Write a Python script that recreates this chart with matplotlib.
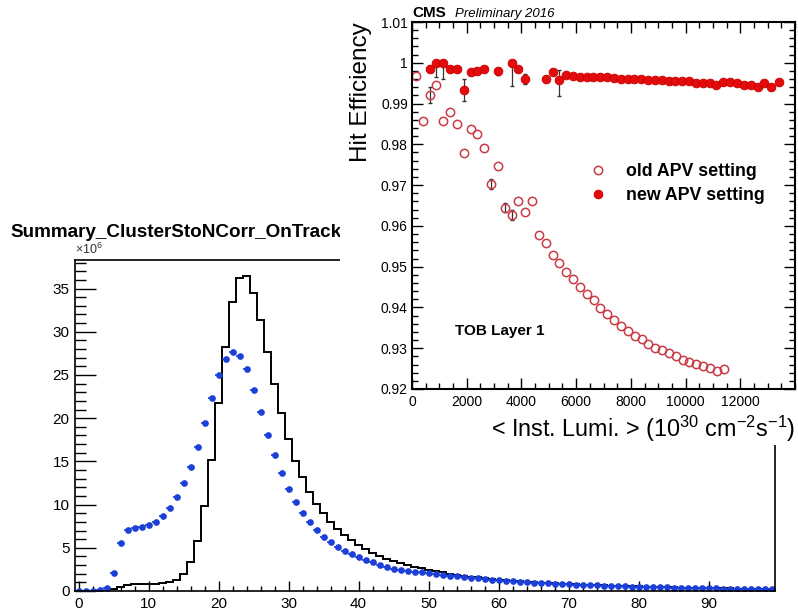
import matplotlib
matplotlib.use('Agg')
import matplotlib.pyplot as plt
import numpy as np
from matplotlib.patches import Rectangle
from matplotlib.lines import Line2D
from matplotlib.ticker import MultipleLocator

plt.rcParams['font.family'] = ['Liberation Sans', 'DejaVu Sans']
plt.rcParams['mathtext.fontset'] = 'custom'
plt.rcParams['mathtext.rm'] = 'Liberation Sans'
plt.rcParams['mathtext.it'] = 'Liberation Sans:italic'
plt.rcParams['mathtext.bf'] = 'Liberation Sans:bold'

# ---- left plot: cluster S/N on track (units of 1e6), bins centred on integers 0..99
ston_bins = np.arange(100)
ston_hist = [0, 0, 0, 0, 0.05, 0.2, 0.5, 0.7, 0.8, 0.8,
             0.8, 0.85, 0.95, 1.05, 1.3, 2.0, 3.3, 5.8, 9.8, 15.2,
             21.7, 28.2, 33.4, 36.2, 36.4, 34.5, 31.3, 27.6, 24.0, 20.6,
             17.6, 15.1, 13.2, 11.5, 10.1, 9.0, 8.0, 7.2, 6.5, 5.9,
             5.35, 4.85, 4.45, 4.1, 3.75, 3.45, 3.2, 3.0, 2.8, 2.62,
             2.45, 2.3, 2.15, 2.02, 1.9, 1.78, 1.67, 1.57, 1.47, 1.38,
             1.3, 1.23, 1.16, 1.1, 1.05, 1.0, 0.96, 0.92, 0.88, 0.84,
             0.8, 0.77, 0.74, 0.71, 0.68, 0.65, 0.62, 0.6, 0.57, 0.55,
             0.53, 0.5, 0.48, 0.46, 0.44, 0.42, 0.4, 0.39, 0.37, 0.35,
             0.34, 0.32, 0.3, 0.29, 0.27, 0.26, 0.24, 0.23, 0.22, 0.21]
ston_points = [0, 0, 0.05, 0.1, 0.35, 2.1, 5.6, 7.1, 7.3, 7.4,
               7.6, 8.0, 8.7, 9.6, 10.9, 12.5, 14.3, 16.7, 19.4, 22.3,
               25.0, 26.9, 27.6, 27.2, 25.7, 23.3, 20.7, 18.1, 15.7, 13.6,
               11.8, 10.3, 9.05, 7.95, 7.05, 6.3, 5.65, 5.1, 4.65, 4.3,
               3.95, 3.6, 3.3, 3.05, 2.8, 2.6, 2.45, 2.35, 2.25, 2.15,
               2.05, 1.95, 1.85, 1.75, 1.68, 1.6, 1.52, 1.45, 1.38, 1.31,
               1.25, 1.19, 1.13, 1.08, 1.03, 0.98, 0.93, 0.89, 0.85, 0.81,
               0.77, 0.74, 0.71, 0.68, 0.65, 0.62, 0.6, 0.57, 0.55, 0.52,
               0.5, 0.48, 0.46, 0.44, 0.42, 0.4, 0.38, 0.36, 0.35, 0.33,
               0.32, 0.3, 0.28, 0.27, 0.25, 0.24, 0.22, 0.21, 0.2, 0.19]

# ---- right plot: hit efficiency vs inst. lumi
old_lumi = [140, 390, 640, 890, 1140, 1390, 1640, 1890, 2140, 2390,
            2640, 2890, 3140, 3390, 3640, 3890, 4140, 4390, 4640, 4890,
            5140, 5390, 5640, 5890, 6140, 6390, 6640, 6890, 7140, 7390,
            7640, 7890, 8140, 8390, 8640, 8890, 9140, 9390, 9640, 9890,
            10140, 10390, 10640, 10890, 11140, 11390]
old_eff = [0.9968, 0.9858, 0.9921, 0.9946, 0.9858, 0.9879, 0.9851, 0.9778, 0.9838, 0.9825,
           0.9792, 0.9702, 0.9746, 0.9645, 0.9627, 0.9660, 0.9635, 0.9661, 0.9578, 0.9557,
           0.9529, 0.9509, 0.9488, 0.9469, 0.9451, 0.9433, 0.9418, 0.9398, 0.9384, 0.9369,
           0.9354, 0.9342, 0.9331, 0.9323, 0.9310, 0.9301, 0.9296, 0.9288, 0.9281, 0.9271,
           0.9267, 0.9261, 0.9257, 0.9251, 0.9245, 0.9248]
old_err = [0, 0, 0.002, 0, 0, 0, 0, 0, 0, 0,
           0, 0.0012, 0, 0.0012, 0.0013, 0, 0, 0, 0, 0,
           0, 0, 0, 0, 0, 0, 0, 0, 0, 0,
           0, 0, 0, 0, 0, 0, 0, 0, 0, 0,
           0, 0, 0, 0, 0, 0]

new_lumi = [640, 890, 1140, 1390, 1640, 1890, 2140, 2390, 2640, 3140,
            3640, 3890, 4140, 4890, 5140, 5390, 5630, 5880, 6130, 6380,
            6630, 6880, 7130, 7380, 7630, 7880, 8130, 8380, 8630, 8880,
            9130, 9380, 9630, 9880, 10130, 10380, 10630, 10880, 11130, 11380,
            11630, 11880, 12130, 12380, 12630, 12880, 13130, 13400]
new_eff = [0.9985, 1.0000, 1.0000, 0.9984, 0.9984, 0.9933, 0.9978, 0.9981, 0.9985, 0.9979,
           1.0000, 0.9985, 0.9960, 0.9960, 0.9977, 0.9958, 0.9971, 0.9968, 0.9965, 0.9965,
           0.9965, 0.9964, 0.9964, 0.9962, 0.9961, 0.9961, 0.9961, 0.9960, 0.9958, 0.9958,
           0.9957, 0.9955, 0.9955, 0.9955, 0.9955, 0.9951, 0.9951, 0.9950, 0.9945, 0.9953,
           0.9953, 0.9950, 0.9946, 0.9946, 0.9941, 0.9950, 0.9941, 0.9953]
new_err_lo = [0.0004, 0.0035, 0.004, 0.0004, 0, 0.0027, 0.0007, 0, 0, 0.0008,
              0.0057, 0, 0.0012, 0, 0, 0.0039] + [0] * 32
new_err_hi = [0.0004, 0.0, 0.0, 0.0004, 0, 0.0027, 0.0007, 0, 0, 0.0008,
              0.0, 0, 0.0012, 0, 0, 0.0024] + [0] * 32

W, H = 798, 613
fig = plt.figure(figsize=(W / 100, H / 100), dpi=100)

# ---------------- left histogram ----------------
ax1 = fig.add_axes([75 / W, 22 / H, 700 / W, (591 - 260) / H], zorder=1)
edges = np.append(ston_bins - 0.5, ston_bins[-1] + 0.5)
ax1.stairs(ston_hist, edges, color='black', lw=1.4)
ax1.errorbar(ston_bins, ston_points, xerr=0.5, fmt='o', ms=3.8, color='#1b3fd8',
             elinewidth=1.2, capsize=0)
ax1.set_xlim(-0.5, 99.5)
ax1.set_ylim(0, 38.3)
ax1.set_xticks(range(0, 100, 10))
ax1.xaxis.set_minor_locator(MultipleLocator(2))
ax1.yaxis.set_major_locator(MultipleLocator(5))
ax1.yaxis.set_minor_locator(MultipleLocator(1))
ax1.tick_params(axis='x', which='major', direction='in', length=7.5, width=1, labelsize=11, pad=4)
ax1.tick_params(axis='x', which='minor', direction='in', length=3.6, width=1)
ax1.tick_params(axis='y', which='major', direction='in', length=15, width=1, labelsize=11, pad=4)
ax1.tick_params(axis='y', which='minor', direction='in', length=8, width=1)
for s in ax1.spines.values():
    s.set_linewidth(1.2)
ax1.text(0.0, 1.008, r'$\times$10$^{6}$', transform=ax1.transAxes, fontsize=9,
         ha='left', va='bottom', color='#333333')
ax1.text(-65 / 700, 1 + 23 / 331, 'Summary_ClusterStoNCorr_OnTrack', transform=ax1.transAxes,
         fontsize=13.6, fontweight='bold', ha='left', va='baseline')

# white canvas of the second picture pasted on top
fig.add_artist(Rectangle((340 / W, (H - 445) / H), 458 / W, 445 / H,
                         transform=fig.transFigure, facecolor='white', edgecolor='none', zorder=2))

# ---------------- right efficiency plot ----------------
ax2 = fig.add_axes([412 / W, (H - 389) / H, 383 / W, 367 / H], zorder=3)
old_style = dict(marker='o', ls='none', ms=6, mfc='none', mec='#c93b45', mew=1.1)
new_style = dict(marker='o', ls='none', ms=6.3, mfc='#e30b0b', mec='#c80000', mew=0.6)
bar_style = dict(fmt='none', ecolor='#333333', elinewidth=0.9, capsize=1.5)

old_lumi_a, old_eff_a, old_err_a = np.array(old_lumi), np.array(old_eff), np.array(old_err)
m = old_err_a > 0
ax2.errorbar(old_lumi_a[m], old_eff_a[m], yerr=old_err_a[m], **bar_style)
ax2.plot(old_lumi, old_eff, **old_style)

new_lumi_a, new_eff_a = np.array(new_lumi), np.array(new_eff)
lo, hi = np.array(new_err_lo), np.array(new_err_hi)
m = (lo + hi) > 0
ax2.errorbar(new_lumi_a[m], new_eff_a[m], yerr=[lo[m], hi[m]], **bar_style)
ax2.plot(new_lumi, new_eff, **new_style)

ax2.set_xlim(0, 14000)
ax2.set_ylim(0.92, 1.01)
ax2.set_xticks(range(0, 12001, 2000))
ax2.xaxis.set_minor_locator(MultipleLocator(500))
yt = [0.92, 0.93, 0.94, 0.95, 0.96, 0.97, 0.98, 0.99, 1.0, 1.01]
ax2.set_yticks(yt)
ax2.set_yticklabels(['0.92', '0.93', '0.94', '0.95', '0.96', '0.97', '0.98', '0.99', '1', '1.01'])
ax2.yaxis.set_minor_locator(MultipleLocator(0.002))
ax2.tick_params(which='both', direction='in', top=True, right=True, width=1)
ax2.tick_params(which='major', length=8, labelsize=10)
ax2.tick_params(which='minor', length=4)
ax2.tick_params(axis='y', pad=3)
ax2.tick_params(axis='x', pad=4)
for s in ax2.spines.values():
    s.set_linewidth(1.5)

ax2.set_ylabel('Hit Efficiency', loc='top', fontsize=17.5)
ax2.yaxis.set_label_coords(-0.104, 1.0)
ax2.set_xlabel(r'< Inst. Lumi. > (10$^{30}$ cm$^{-2}$s$^{-1}$)', loc='right', fontsize=16.8)
ax2.xaxis.set_label_coords(1.0, -0.068)

ax2.text(0.0, 1.014, 'CMS', transform=ax2.transAxes, fontsize=11, fontweight='bold', va='baseline')
ax2.text(0.112, 1.014, 'Preliminary 2016', transform=ax2.transAxes, fontsize=9.5,
         style='italic', va='baseline')
ax2.text(0.112, 0.158, 'TOB Layer 1', transform=ax2.transAxes, fontsize=11,
         fontweight='bold', va='center')

handles = [Line2D([], [], **old_style), Line2D([], [], **new_style)]
ax2.legend(handles, ['old APV setting', 'new APV setting'], loc='center left',
           bbox_to_anchor=(0.4627, 0.56), frameon=False, borderpad=0, borderaxespad=0,
           handlelength=1.0, handletextpad=1.05, labelspacing=0.42,
           prop={'weight': 'bold', 'size': 12.8})

fig.savefig('out.png', dpi=100, facecolor='white')
